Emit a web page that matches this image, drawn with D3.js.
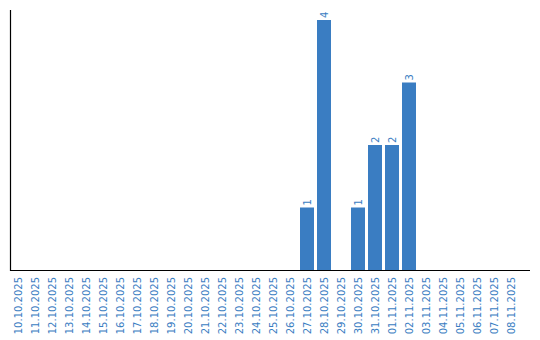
<!DOCTYPE html>
<html><head><meta charset="utf-8">
<script src="https://cdn.jsdelivr.net/npm/d3@7"></script>
<style>body{margin:0;background:#fff}</style>
</head><body>
<svg id="c" width="540" height="340"></svg>
<script>
const categories = ["10.10.2025","11.10.2025","12.10.2025","13.10.2025","14.10.2025","15.10.2025","16.10.2025","17.10.2025","18.10.2025","19.10.2025","20.10.2025","21.10.2025","22.10.2025","23.10.2025","24.10.2025","25.10.2025","26.10.2025","27.10.2025","28.10.2025","29.10.2025","30.10.2025","31.10.2025","01.11.2025","02.11.2025","03.11.2025","04.11.2025","05.11.2025","06.11.2025","07.11.2025","08.11.2025"];
const values = [0,0,0,0,0,0,0,0,0,0,0,0,0,0,0,0,0,1,4,0,1,2,2,3,0,0,0,0,0,0];

const color = "#3a7dc2";
const svg = d3.select("#c");
const x = d3.scaleBand().domain(categories).range([9.5, 519.5]).paddingInner(3/17).paddingOuter(1.5/17);
const y = d3.scaleLinear().domain([0,4]).range([270,20]);

const data = categories.map((c,i)=>({c, v: values[i]}));

svg.selectAll("rect.bar").data(data.filter(d=>d.v>0)).join("rect")
  .attr("class","bar")
  .attr("x", d=>x(d.c)).attr("width", x.bandwidth())
  .attr("y", d=>y(d.v)).attr("height", d=>y(0)-y(d.v))
  .attr("fill", color);

svg.selectAll("text.val").data(data.filter(d=>d.v>0)).join("text")
  .attr("class","val")
  .attr("transform", d=>`translate(${x(d.c)+x.bandwidth()/2},${y(d.v)-2}) rotate(-90)`)
  .attr("dy","0.35em")
  .attr("font-family","DejaVu Sans, Verdana, sans-serif")
  .attr("font-size","10px")
  .attr("fill", color)
  .text(d=>d.v);

// x axis
const xAxis = svg.append("g").attr("transform","translate(0,270)");
xAxis.append("line").attr("x1",10).attr("x2",530).attr("y1",0.5).attr("y2",0.5).attr("stroke","#000").attr("stroke-width",1.2);
xAxis.selectAll("text").data(categories).join("text")
  .attr("transform", d=>`translate(${x(d)+x.bandwidth()/2},7) rotate(-90)`)
  .attr("dy","0.35em")
  .attr("text-anchor","end")
  .attr("font-family","DejaVu Sans, Verdana, sans-serif")
  .attr("font-size","10px")
  .attr("fill", color)
  .text(d=>d);

// y axis line
svg.append("line").attr("x1",10.5).attr("x2",10.5).attr("y1",10).attr("y2",271).attr("stroke","#000").attr("stroke-width",1.2);
</script>
</body></html>
